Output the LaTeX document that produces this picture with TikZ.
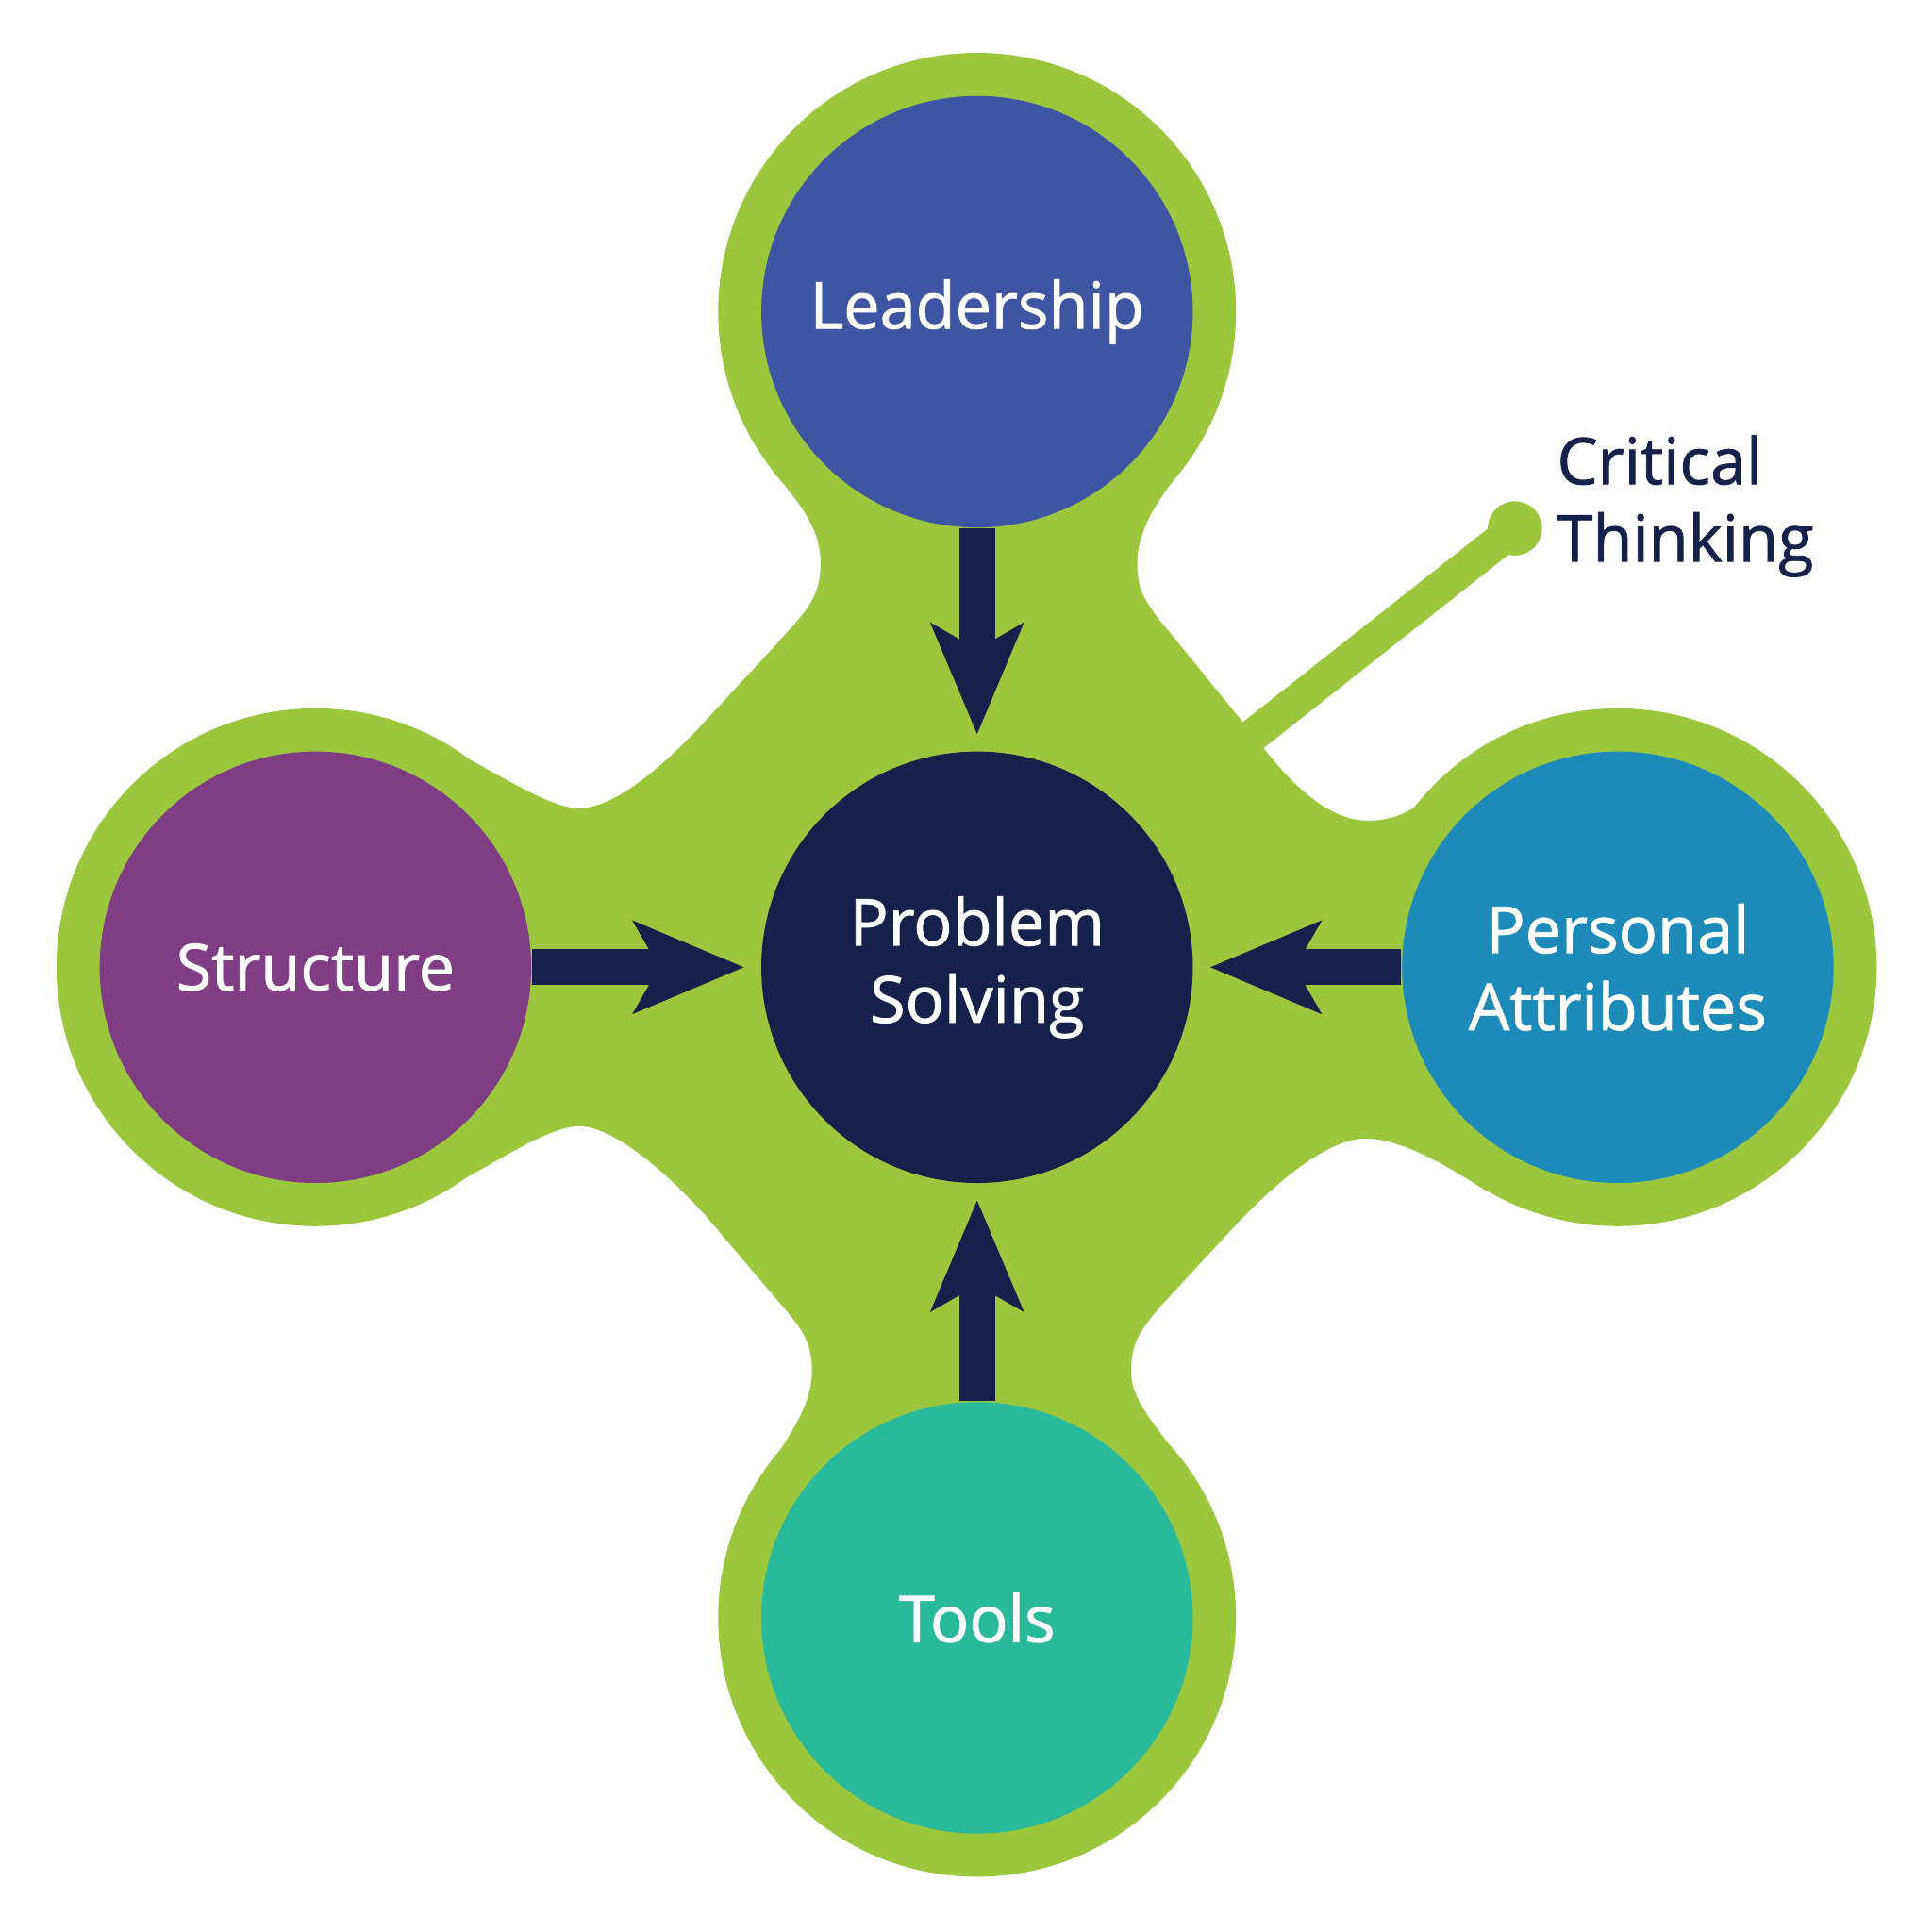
\documentclass[tikz,border=0pt]{standalone}
\usepackage{fontspec}
\setmainfont{Open Sans}
\newfontfamily\lblfont{Open Sans}[FakeBold=1.2]
\usetikzlibrary{arrows.meta}
\definecolor{cgreen}{HTML}{9BC73D}
\definecolor{cnavy}{HTML}{15214A}
\definecolor{cblue}{HTML}{3E55A3}
\definecolor{cpurple}{HTML}{803D83}
\definecolor{ccyan}{HTML}{1D8BB9}
\definecolor{cteal}{HTML}{29BA9C}
\begin{document}
\begin{tikzpicture}[x=0.01cm,y=0.01cm,
  disc/.style={circle, minimum size=3.5cm, inner sep=0pt, text=white,
    font=\lblfont\fontsize{14.9}{17.8}\selectfont, align=center},
  arr/.style={draw=cnavy, line width=0.29cm,
    -{Stealth[length=0.89cm,width=0.73cm,inset=0.2cm]}, shorten >=0.13cm},
  blob/.style={fill=cgreen}
]
\useasboundingbox (0,0) rectangle (1568,-1568);

% green connecting blob
\path[blob]
 (626,-380) .. controls (647,-407) and (666,-427) .. (666,-457)
 .. controls (666,-485) and (655,-495) .. (630,-523)
 -- (567,-591)
 .. controls (530,-630) and (495,-656) .. (470,-656)
 .. controls (445,-656) and (400,-625) .. (374,-613)
 -- (256,-785) -- (374,-958)
 .. controls (400,-945) and (445,-914) .. (470,-914)
 .. controls (495,-914) and (535,-945) .. (573,-987)
 -- (635,-1060)
 .. controls (652,-1080) and (659,-1090) .. (659,-1113)
 .. controls (659,-1140) and (642,-1162) .. (624,-1192)
 -- (793,-1313) -- (962,-1192)
 .. controls (944,-1162) and (918,-1140) .. (918,-1113)
 .. controls (918,-1090) and (925,-1080) .. (942,-1060)
 -- (1004,-993)
 .. controls (1040,-955) and (1080,-924) .. (1108,-924)
 .. controls (1140,-924) and (1180,-950) .. (1207,-967)
 -- (1313,-785) -- (1154,-651)
 .. controls (1140,-662) and (1125,-666) .. (1110,-666)
 .. controls (1080,-666) and (1050,-640) .. (1020,-600)
 -- (950,-514)
 .. controls (925,-485) and (923,-475) .. (923,-457)
 .. controls (923,-430) and (940,-405) .. (960,-380)
 -- (793,-253) -- cycle;

% outer green rings
\path[blob] (793,-253) circle[radius=2.1cm];
\path[blob] (256,-785) circle[radius=2.1cm];
\path[blob] (1313,-785) circle[radius=2.1cm];
\path[blob] (793,-1313) circle[radius=2.1cm];

% critical thinking pointer
\coordinate (ctbase) at (990,-618);
\node[circle, fill=cgreen, minimum size=0.44cm, inner sep=0pt] (dot) at (1229.5,-428.8) {};
\draw[cgreen, line width=0.27cm] (ctbase) -- (dot.center);
\node[anchor=base west, align=left, inner sep=0pt, text=cnavy,
  font=\lblfont\fontsize{14.9}{17.8}\selectfont] (ct) at (1263,-455.6) {Critical\\Thinking};

% discs
\node[disc, fill=cblue] (lead) at (793,-253) {Leadership};
\node[disc, fill=cnavy] (ps) at (793,-785) {Problem\\Solving};
\node[disc, fill=cpurple] (struct) at (256,-785) {Structure};
\node[disc, fill=ccyan] (pers) at (1313,-785) {Personal\\Attributes};
\node[disc, fill=cteal] (tools) at (793,-1313) {Tools};

% arrows
\draw[arr] (lead.south) -- (ps.north);
\draw[arr] (struct.east) -- (ps.west);
\draw[arr] (pers.west) -- (ps.east);
\draw[arr] (tools.north) -- (ps.south);
\end{tikzpicture}
\end{document}
